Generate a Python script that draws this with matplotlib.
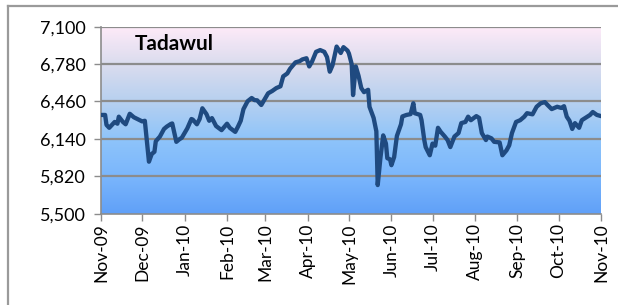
import matplotlib
matplotlib.use("Agg")
import matplotlib.pyplot as plt
import matplotlib.dates as mdates
from matplotlib.colors import LinearSegmentedColormap
from matplotlib.ticker import FuncFormatter
import numpy as np
import pandas as pd

dates = [
    "2009-11-01", "2009-11-04", "2009-11-05", "2009-11-07", "2009-11-11", "2009-11-13",
    "2009-11-14", "2009-11-17", "2009-11-19", "2009-11-22", "2009-11-25", "2009-12-01",
    "2009-12-03", "2009-12-06", "2009-12-08", "2009-12-10", "2009-12-11", "2009-12-14",
    "2009-12-17", "2009-12-19", "2009-12-22", "2009-12-23", "2009-12-26", "2009-12-28",
    "2009-12-30", "2010-01-03", "2010-01-06", "2010-01-07", "2010-01-10", "2010-01-12",
    "2010-01-14", "2010-01-17", "2010-01-19", "2010-01-21", "2010-01-24", "2010-01-28",
    "2010-02-01", "2010-02-03", "2010-02-07", "2010-02-09", "2010-02-11", "2010-02-13",
    "2010-02-16", "2010-02-19", "2010-02-21", "2010-02-23", "2010-02-26", "2010-02-28",
    "2010-03-03", "2010-03-06", "2010-03-09", "2010-03-12", "2010-03-14", "2010-03-17",
    "2010-03-19", "2010-03-23", "2010-03-26", "2010-03-28", "2010-03-31", "2010-04-02",
    "2010-04-04", "2010-04-07", "2010-04-10", "2010-04-13", "2010-04-15", "2010-04-17",
    "2010-04-19", "2010-04-22", "2010-04-25", "2010-04-27", "2010-04-30", "2010-05-01",
    "2010-05-03", "2010-05-04", "2010-05-06", "2010-05-08", "2010-05-10", "2010-05-12",
    "2010-05-15", "2010-05-16", "2010-05-19", "2010-05-21", "2010-05-22", "2010-05-24",
    "2010-05-26", "2010-05-28", "2010-05-29", "2010-05-31", "2010-06-01", "2010-06-03",
    "2010-06-05", "2010-06-08", "2010-06-09", "2010-06-12", "2010-06-15", "2010-06-17",
    "2010-06-18", "2010-06-22", "2010-06-23", "2010-06-25", "2010-06-26", "2010-06-29",
    "2010-07-01", "2010-07-03", "2010-07-05", "2010-07-07", "2010-07-10", "2010-07-12",
    "2010-07-14", "2010-07-17", "2010-07-20", "2010-07-22", "2010-07-25", "2010-07-27",
    "2010-07-29", "2010-08-02", "2010-08-04", "2010-08-06", "2010-08-09", "2010-08-10",
    "2010-08-13", "2010-08-15", "2010-08-19", "2010-08-21", "2010-08-24", "2010-08-26",
    "2010-08-28", "2010-08-31", "2010-09-03", "2010-09-06", "2010-09-08", "2010-09-12",
    "2010-09-15", "2010-09-18", "2010-09-21", "2010-09-23", "2010-09-26", "2010-09-28",
    "2010-09-30", "2010-10-03", "2010-10-05", "2010-10-07", "2010-10-09", "2010-10-11",
    "2010-10-13", "2010-10-16", "2010-10-18", "2010-10-22", "2010-10-24", "2010-10-26",
    "2010-10-29", "2010-11-01",
]
values = [
    6345, 6345, 6260, 6235, 6285, 6270,
    6330, 6285, 6265, 6355, 6325, 6290,
    6295, 5945, 6010, 6030, 6120, 6160,
    6225, 6245, 6268, 6272, 6115, 6135,
    6150, 6230, 6310, 6305, 6265, 6310,
    6402, 6352, 6295, 6318, 6250, 6215,
    6270, 6235, 6200, 6245, 6295, 6395,
    6462, 6490, 6472, 6470, 6430, 6470,
    6530, 6550, 6575, 6590, 6675, 6700,
    6740, 6795, 6805, 6820, 6830, 6760,
    6800, 6885, 6900, 6885, 6840, 6715,
    6770, 6930, 6875, 6925, 6895, 6870,
    6780, 6515, 6760, 6680, 6575, 6540,
    6560, 6415, 6320, 6205, 5745, 5980,
    6170, 6100, 5975, 5965, 5915, 5985,
    6165, 6265, 6332, 6345, 6352, 6445,
    6360, 6345, 6300, 6130, 6070, 6000,
    6100, 6082, 6235, 6200, 6160, 6130,
    6070, 6160, 6190, 6275, 6285, 6330,
    6300, 6335, 6320, 6190, 6130, 6160,
    6145, 6115, 6110, 6000, 6042, 6085,
    6190, 6285, 6300, 6330, 6360, 6350,
    6415, 6445, 6455, 6430, 6395, 6405,
    6415, 6405, 6420, 6330, 6295, 6225,
    6275, 6235, 6300, 6330, 6345, 6370,
    6345, 6335,
]
month_ticks = pd.date_range("2009-11-01", "2010-11-01", freq="MS")
y_ticks = [5500, 5820, 6140, 6460, 6780, 7100]
title_text = "Tadawul"

x = pd.to_datetime(dates)

fig = plt.figure(figsize=(6.18, 3.05), dpi=100)
fig.patch.set_facecolor("white")
ax = fig.add_axes([101 / 618, 1 - 213.7 / 305, 500 / 618, (213.7 - 26.7) / 305])

# gradient background
cmap = LinearSegmentedColormap.from_list(
    "bg",
    [(0.0, (96/255, 160/255, 248/255)),
     (0.2, (122/255, 182/255, 252/255)),
     (0.4, (142/255, 196/255, 250/255)),
     (0.6, (182/255, 208/255, 240/255)),
     (0.8, (218/255, 220/255, 238/255)),
     (1.0, (253/255, 234/255, 248/255))])
grad = np.linspace(0, 1, 256).reshape(-1, 1)
ax.imshow(grad, cmap=cmap, origin="lower", aspect="auto",
          extent=[0, 1, 0, 1], transform=ax.transAxes, zorder=0)

ax.set_ylim(5500, 7100)
ax.set_xlim(month_ticks[0], month_ticks[-1])
ax.set_yticks(y_ticks)
ax.yaxis.set_major_formatter(FuncFormatter(lambda v, p: f"{int(v):,}"))
ax.set_xticks(month_ticks)
ax.xaxis.set_major_formatter(mdates.DateFormatter("%b-%y"))

for yv in y_ticks[1:]:
    ax.axhline(yv, color="#8c8c8c", lw=1.6, zorder=1)

ax.plot(x, values, color="#1f4a80", lw=3.1, solid_joinstyle="round",
        solid_capstyle="round", zorder=3)

for s in ["top", "right"]:
    ax.spines[s].set_visible(False)
for s in ["left", "bottom"]:
    ax.spines[s].set_color("#8c8c8c")
    ax.spines[s].set_linewidth(1.2)

font = "Lato"
ax.tick_params(axis="y", length=5, width=1, color="#8c8c8c", pad=6,
               labelsize=13, labelcolor="black")
ax.tick_params(axis="x", length=5, width=1, color="#8c8c8c", pad=2,
               labelsize=12.5, labelcolor="black", rotation=90)
for lab in ax.get_yticklabels() + ax.get_xticklabels():
    lab.set_fontfamily(font)

ax.text(0.068, 0.905, title_text, transform=ax.transAxes, fontsize=15,
        fontweight="bold", fontfamily=font, ha="left", va="center", zorder=4)

# outer chart frame
fig.add_artist(plt.Line2D([8 / 618, 1.0], [1 - 6 / 305, 1 - 6 / 305],
                          transform=fig.transFigure, color="#9a9a9a", lw=1.6))
fig.add_artist(plt.Line2D([8 / 618, 8 / 618], [0, 1 - 6 / 305],
                          transform=fig.transFigure, color="#9a9a9a", lw=1.6))

fig.savefig("out.png", dpi=100)
